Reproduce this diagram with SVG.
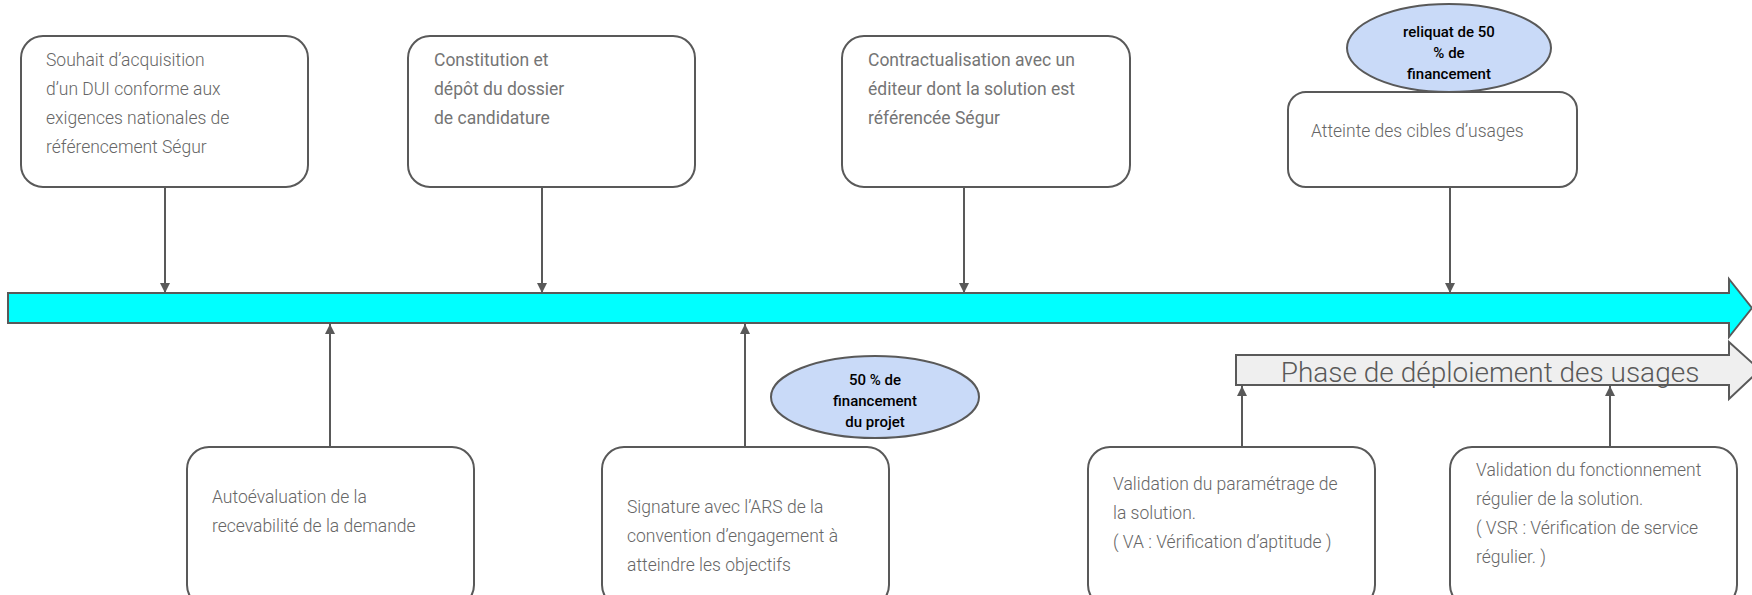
<svg xmlns="http://www.w3.org/2000/svg" width="1752" height="595" viewBox="0 0 1752 595">
<defs>
<marker id="ah" viewBox="0 0 10 10" refX="10" refY="5" markerWidth="10" markerHeight="10" markerUnits="userSpaceOnUse" orient="auto">
<path d="M0,0 L10,5 L0,10 z" fill="#595959"/>
</marker>
<style>
.box{fill:#ffffff;stroke:#595959;stroke-width:2}
.t{font-family:Roboto,"Liberation Sans",sans-serif;font-size:17.5px;font-weight:300;fill:#666666}
.tr{font-family:Roboto,"Liberation Sans",sans-serif;font-size:17.5px;font-weight:400;fill:#757575}
.ell{fill:#c9daf8;stroke:#595959;stroke-width:2}
.et{font-family:Roboto,"Liberation Sans",sans-serif;font-size:15px;font-weight:500;fill:#000000;text-anchor:middle}
.con{stroke:#595959;stroke-width:2;fill:none;marker-end:url(#ah)}
</style>
</defs>
<rect width="1752" height="595" fill="#ffffff"/>

<g id="timeline">
<path d="M8,293 L1729,293 L1729,279 L1752,308 L1729,337 L1729,323 L8,323 Z" fill="#00ffff" stroke="#595959" stroke-width="2"/>
</g>

<g id="phase">
<path d="M1236,355 L1729,355 L1729,342 L1760,370 L1729,399 L1729,385 L1236,385 Z" fill="#efefef" stroke="#595959" stroke-width="2"/>
<text x="1490" y="382" text-anchor="middle" style="font-family:Roboto,'Liberation Sans',sans-serif;font-size:28px;font-weight:300;fill:#595959">Phase de déploiement des usages</text>
</g>

<g id="connectors">
<line class="con" x1="165" y1="187" x2="165" y2="293"/>
<line class="con" x1="542" y1="187" x2="542" y2="293"/>
<line class="con" x1="964" y1="187" x2="964" y2="293"/>
<line class="con" x1="1450" y1="187" x2="1450" y2="293"/>
<line class="con" x1="330" y1="447" x2="330" y2="324"/>
<line class="con" x1="745" y1="447" x2="745" y2="324"/>
<line class="con" x1="1242" y1="447" x2="1242" y2="386"/>
<line class="con" x1="1610" y1="447" x2="1610" y2="386"/>
</g>

<g id="n1">
<rect class="box" x="21" y="36" width="287" height="151" rx="22"/>
<text class="t"><tspan x="46" y="66">Souhait d’acquisition</tspan><tspan x="46" y="95">d’un DUI conforme aux</tspan><tspan x="46" y="124">exigences nationales de</tspan><tspan x="46" y="153">référencement Ségur</tspan></text>
</g>
<g id="n2">
<rect class="box" x="408" y="36" width="287" height="151" rx="22"/>
<text class="tr"><tspan x="434" y="66">Constitution et</tspan><tspan x="434" y="95">dépôt du dossier</tspan><tspan x="434" y="124">de candidature</tspan></text>
</g>
<g id="n3">
<rect class="box" x="842" y="36" width="288" height="151" rx="22"/>
<text class="tr"><tspan x="868" y="66">Contractualisation avec un</tspan><tspan x="868" y="95">éditeur dont la solution est</tspan><tspan x="868" y="124">référencée Ségur</tspan></text>
</g>
<g id="n4">
<rect class="box" x="1288" y="92" width="289" height="95" rx="18"/>
<text class="t" x="1311" y="137">Atteinte des cibles d’usages</text>
</g>
<g id="e1">
<ellipse class="ell" cx="1449" cy="48" rx="102" ry="44"/>
<text class="et"><tspan x="1449" y="37">reliquat de 50</tspan><tspan x="1449" y="58">% de</tspan><tspan x="1449" y="79">financement</tspan></text>
</g>

<g id="n5">
<rect class="box" x="187" y="447" width="287" height="160" rx="22"/>
<text class="t"><tspan x="212" y="503">Autoévaluation de la</tspan><tspan x="212" y="532">recevabilité de la demande</tspan></text>
</g>
<g id="n6">
<rect class="box" x="602" y="447" width="287" height="160" rx="22"/>
<text class="t"><tspan x="627" y="513">Signature avec l’ARS de la</tspan><tspan x="627" y="542">convention d’engagement à</tspan><tspan x="627" y="571">atteindre les objectifs</tspan></text>
</g>
<g id="e2">
<ellipse class="ell" cx="875" cy="397" rx="104" ry="41"/>
<text class="et"><tspan x="875" y="385">50 % de</tspan><tspan x="875" y="406">financement</tspan><tspan x="875" y="427">du projet</tspan></text>
</g>
<g id="n7">
<rect class="box" x="1088" y="447" width="287" height="160" rx="22"/>
<text class="t"><tspan x="1113" y="490">Validation du paramétrage de</tspan><tspan x="1113" y="519">la solution.</tspan><tspan x="1113" y="548">( VA :  Vérification d’aptitude )</tspan></text>
</g>
<g id="n8">
<rect class="box" x="1450" y="447" width="287" height="160" rx="22"/>
<text class="t"><tspan x="1476" y="476">Validation du fonctionnement</tspan><tspan x="1476" y="505">régulier de la solution.</tspan><tspan x="1476" y="534">( VSR : Vérification de service</tspan><tspan x="1476" y="563">régulier. )</tspan></text>
</g>
</svg>
